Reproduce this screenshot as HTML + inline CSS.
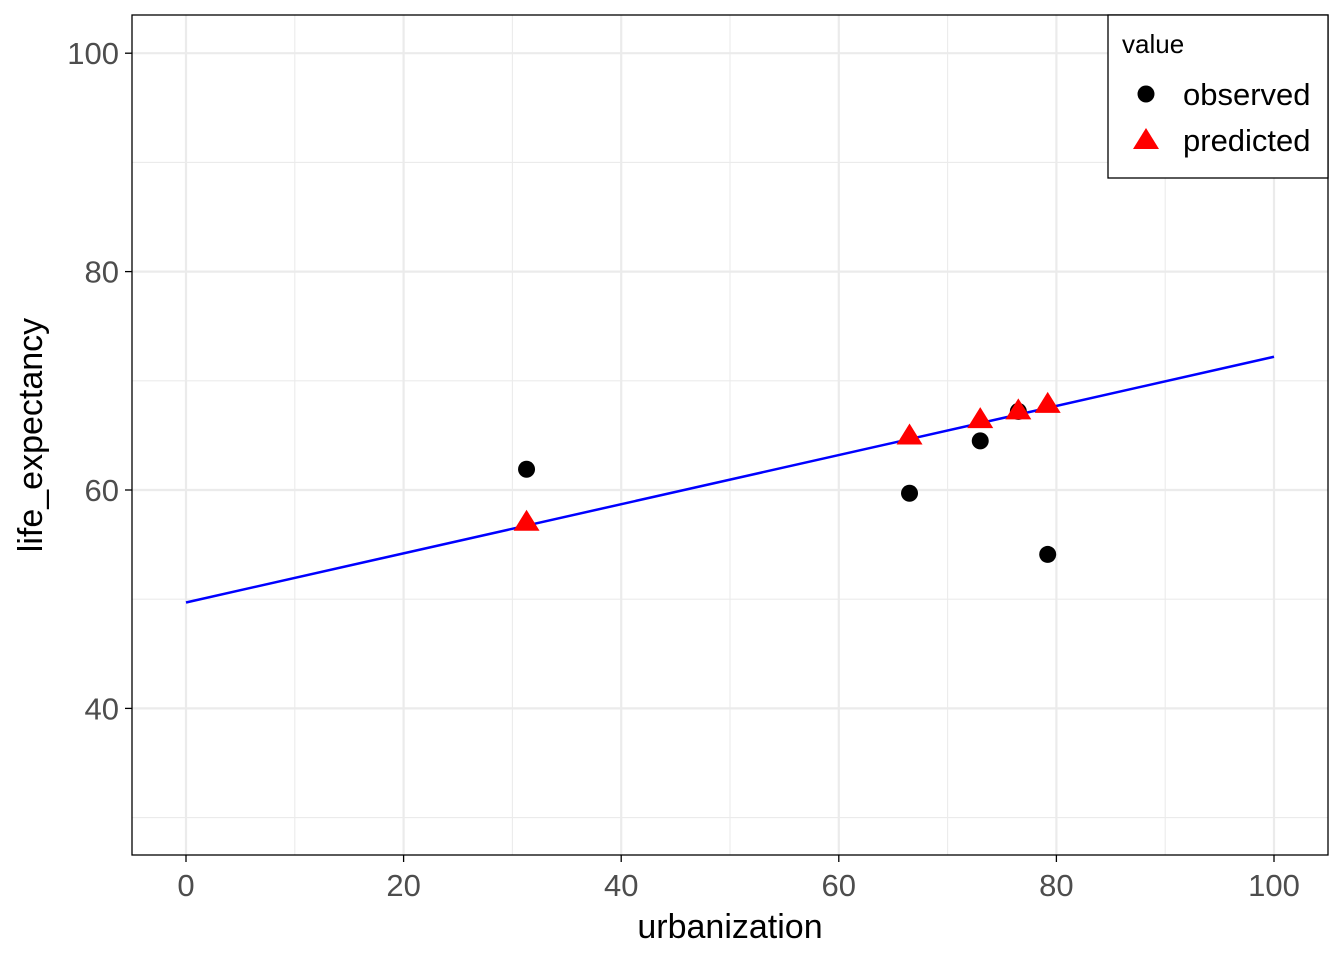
<!DOCTYPE html>
<html><head><meta charset="utf-8"><style>
body{margin:0;background:#fff;font-family:"Liberation Sans",Arial,sans-serif}
</style></head><body>
<svg id="chart" width="1344" height="960" xmlns="http://www.w3.org/2000/svg">
<g id="grid"></g>
<g id="marks"></g>
<rect x="132" y="15" width="1196" height="840" fill="none" stroke="#000" stroke-width="1.3"/>
<g id="axes" font-size="31" fill="#4d4d4d"></g>
<text x="730" y="938" font-size="34" text-anchor="middle" fill="#000">urbanization</text>
<text transform="translate(42,435) rotate(-90)" font-size="34" text-anchor="middle" fill="#000">life_expectancy</text>
<g>
<rect x="1108" y="15" width="220" height="163" fill="#fff" stroke="#000" stroke-width="1.3"/>
<text x="1122" y="53" font-size="26" fill="#000">value</text>
<circle cx="1146" cy="94" r="8.5" fill="#000"/>
<text x="1183" y="105" font-size="31" fill="#000">observed</text>
<polygon points="1146,128 1159,149 1133,149" fill="#ff0000"/>
<text x="1183" y="151" font-size="31" fill="#000">predicted</text>
</g>
</svg>
<script>
const xTicks=[0,20,40,60,80,100];
const yTicks=[40,60,80,100];
const xs=[31.3,66.5,73,76.5,79.2];
const observed=[61.9,59.7,64.5,67.2,54.1];
const predicted=[57.0,64.9,66.4,67.2,67.8];
const lineX=[0,100];
const lineY=[49.7,72.2];
const sx=v=>186+v*10.88;
const sy=v=>490-(v-60)*10.92;
const NS="http://www.w3.org/2000/svg";
function mk(p,t,a){const e=document.createElementNS(NS,t);for(const k in a)e.setAttribute(k,a[k]);p.appendChild(e);return e;}
const grid=document.getElementById('grid'),marks=document.getElementById('marks'),axes=document.getElementById('axes');
for(let i=0;i<xTicks.length;i++){
 const l=mk(grid,'line',{x1:sx(xTicks[i]),x2:sx(xTicks[i]),y1:15,y2:855,stroke:'#ebebeb','stroke-width':2.2});
 
 
 if(i<xTicks.length-1){const m=(xTicks[i]+xTicks[i+1])/2;
 const l2=mk(grid,'line',{x1:sx(m),x2:sx(m),y1:15,y2:855,stroke:'#ebebeb','stroke-width':1.1});
 
 }
 mk(axes,'line',{x1:sx(xTicks[i]),x2:sx(xTicks[i]),y1:855,y2:862,stroke:'#000','stroke-width':1.3});
 const t=mk(axes,'text',{x:sx(xTicks[i]),y:896,'text-anchor':'middle'});t.textContent=xTicks[i];
 
 
}
const minorY=[30,50,70,90];
minorY.forEach(v=>{const l=mk(grid,'line',{x1:132,x2:1328,y1:sy(v),y2:sy(v),stroke:'#ebebeb','stroke-width':1.1});
 
 });
yTicks.forEach(v=>{
 const l=mk(grid,'line',{x1:132,x2:1328,y1:sy(v),y2:sy(v),stroke:'#ebebeb','stroke-width':2.2});
 
 
 mk(axes,'line',{x1:125,x2:132,y1:sy(v),y2:sy(v),stroke:'#000','stroke-width':1.3});
 const t=mk(axes,'text',{x:119,y:sy(v)+11,'text-anchor':'end'});t.textContent=v;
 
 
});
const fl=mk(marks,'line',{x1:sx(lineX[0]),y1:sy(lineY[0]),x2:sx(lineX[1]),y2:sy(lineY[1]),stroke:'#0000ff','stroke-width':2.5});


xs.forEach((x,i)=>{
 const c=mk(marks,'circle',{cx:sx(x),cy:sy(observed[i]),r:8.5,fill:'#000'});
 
 
});
xs.forEach((x,i)=>{
 const X=sx(x),Y=sy(predicted[i]);
 const p=mk(marks,'polygon',{points:`${X},${Y-13} ${X+13},${Y+8} ${X-13},${Y+8}`,fill:'#ff0000'});
 
 
});
</script>
</body></html>
